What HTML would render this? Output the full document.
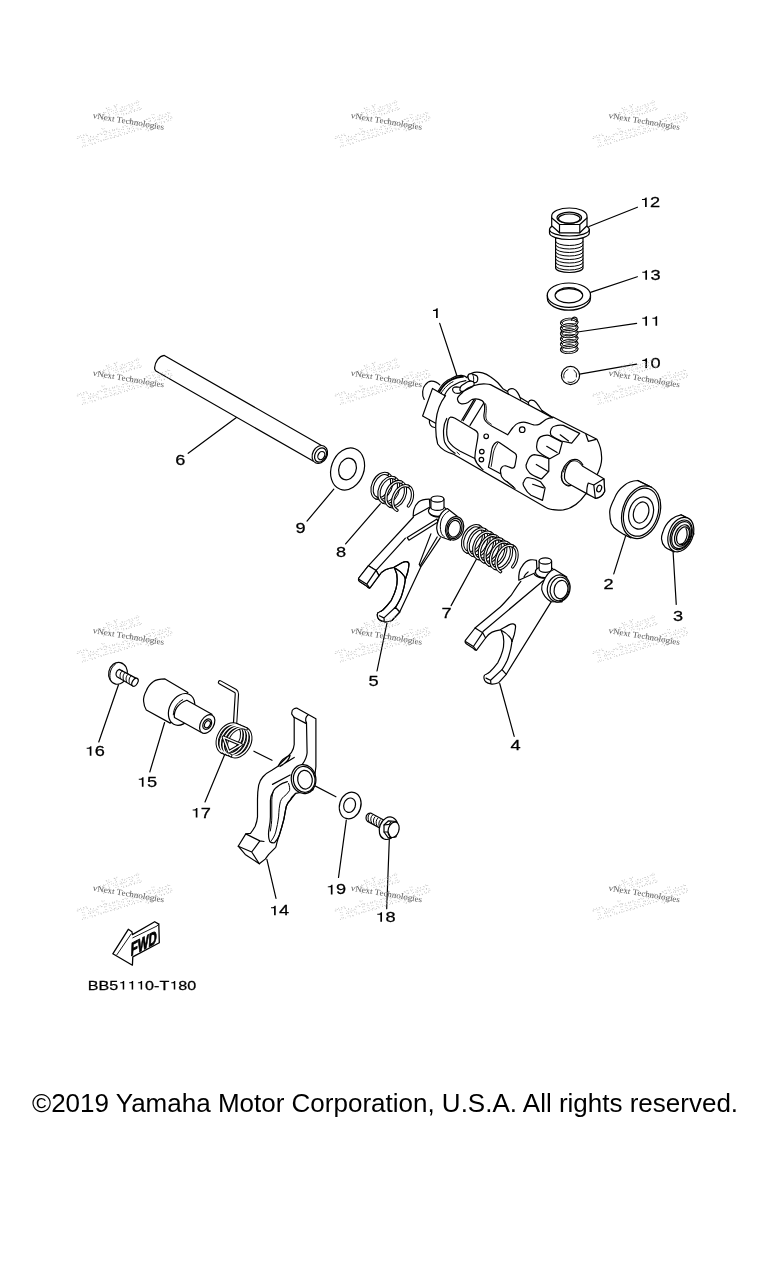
<!DOCTYPE html>
<html><head><meta charset="utf-8"><style>
html,body{margin:0;padding:0;background:#fff;width:768px;height:1280px;overflow:hidden}
svg{position:absolute;left:0;top:0;will-change:transform}
.c{will-change:transform;position:absolute;left:32px;top:1088px;font:26px "Liberation Sans",sans-serif;white-space:nowrap;color:#000;line-height:30px}
</style></head><body>
<svg width="768" height="1280" viewBox="0 0 768 1280">
<defs>
<path id="one" d="M756 0 L567 0 L567 1032 L223 1032 L223 1171 C502 1206 563 1249 635 1409 L756 1409 Z"/>
<g id="wm">
 <g fill="none" stroke="#b4b4b4" stroke-width="0.7" stroke-dasharray="0.7 2" font-family="Liberation Serif" font-size="17.5" transform="rotate(-17)">
  <text x="5" y="6" transform="scale(1.05,1)">vNext</text>
  <text x="-20" y="25" transform="scale(1.05,1)">Technologies</text>
 </g>
 <text fill="#5a5a5a" font-family="Liberation Serif" font-size="8.3" transform="rotate(9.5) scale(1.09,1)" x="0" y="0">vNext Technologies</text>
</g>
</defs>


<g fill="none" stroke="#000" stroke-width="1.2" stroke-linejoin="round" stroke-linecap="round">
<!-- leader lines -->
<path d="M589 226.5 L637.4 207.2"/>
<path d="M590.5 292.4 L637.3 276.7"/>
<path d="M577.5 332 L636.6 323.4"/>
<path d="M579.6 374.2 L636.6 364.2"/>
<path d="M439.7 323.4 L456.9 375.8"/>
<path d="M236.4 417.6 L188.2 453.3"/>
<path d="M333.8 489.2 L307 521.1"/>
<path d="M380.3 503.8 L345.6 543.9"/>
<path d="M476.9 558.2 L451.1 605.6"/>
<path d="M387.5 620.6 L377 671"/>
<path d="M499.7 683.5 L514.2 736.4"/>
<path d="M625.5 536.4 L613.75 573.9"/>
<path d="M673.1 552 L676.25 604.4"/>
<path d="M118.5 684.7 L98.75 742"/>
<path d="M164.6 722.5 L149.8 772"/>
<path d="M224.5 755 L205 802"/>
<path d="M266.9 859.3 L276 898.3"/>
<path d="M346.3 820.2 L338.5 877.5"/>
<path d="M389.3 839.7 L386.7 908.75"/>
<path d="M305.9 781.1 L335.9 796.8"/>
<path d="M253.9 751.2 L272 760.3"/>
</g>

<!-- PARTS -->
<g fill="#fff" stroke="#000" stroke-width="1.2" stroke-linejoin="round" stroke-linecap="round">

<!-- 12 bolt -->
<g id="p12">
 <path d="M555.6 238 L555.6 268 A13.7 4.5 0 0 0 583 268 L583 238 Z"/>
 <path fill="none" stroke-width="1" d="M555.6 241.5 A13.7 4 0 0 0 583 241.5 M555.6 245 A13.7 4 0 0 0 583 245 M555.6 248.5 A13.7 4 0 0 0 583 248.5 M555.6 252 A13.7 4 0 0 0 583 252 M555.6 255.5 A13.7 4 0 0 0 583 255.5 M555.6 259 A13.7 4 0 0 0 583 259 M555.6 262.5 A13.7 4 0 0 0 583 262.5 M555.6 266 A13.7 4 0 0 0 583 266"/>
 <path d="M549.5 229.5 L549.5 233 A19.9 6.5 0 0 0 589.3 233 L589.3 229.5 A19.9 6.5 0 0 0 549.5 229.5 Z"/>
 <path fill="none" d="M549.5 229.5 A19.9 6.5 0 0 0 589.3 229.5"/>
 <path d="M551.7 216 L551.7 225.8 L559.5 232.8 L579.8 232.8 L587 225.8 L587 216 A17.6 8 0 0 0 551.7 216 Z"/>
 <path fill="none" d="M551.8 218 L559.5 224.5 L579.8 224.5 L587 218 M559.5 224.5 L559.5 232.8 M579.8 224.5 L579.8 232.8"/>
 <ellipse cx="569.3" cy="217.8" rx="12.3" ry="5.6"/>
 <ellipse cx="569.3" cy="218.6" rx="10.8" ry="4.6"/>
</g>

<!-- 13 washer -->
<g id="p13">
 <path d="M547.3 295.2 L547.3 298 A21.6 12.2 0 0 0 590.5 298 L590.5 295.2 Z"/>
 <ellipse cx="568.9" cy="295.2" rx="21.6" ry="12.2"/>
 <ellipse cx="568.9" cy="295.3" rx="13.8" ry="7.6"/>
 <path fill="none" d="M555.6 294 A13.5 6.6 0 0 1 582.2 294"/>
</g>

<!-- 11 spring -->
<g id="p11" fill="none">
<g stroke="#000" stroke-width="2.6"><path transform="translate(569.20 322.60) rotate(-3)" d="M8 0 A8 3.6 0 0 0 -8 0"/><path transform="translate(569.20 327.92) rotate(-3)" d="M8 0 A8 3.6 0 0 0 -8 0"/><path transform="translate(569.20 333.24) rotate(-3)" d="M8 0 A8 3.6 0 0 0 -8 0"/><path transform="translate(569.20 338.56) rotate(-3)" d="M8 0 A8 3.6 0 0 0 -8 0"/><path transform="translate(569.20 343.88) rotate(-3)" d="M8 0 A8 3.6 0 0 0 -8 0"/><path transform="translate(569.20 349.20) rotate(-3)" d="M8 0 A8 3.6 0 0 0 -8 0"/></g>
<g stroke="#fff" stroke-width="0.9"><path transform="translate(569.20 322.60) rotate(-3)" d="M8 0 A8 3.6 0 0 0 -8 0"/><path transform="translate(569.20 327.92) rotate(-3)" d="M8 0 A8 3.6 0 0 0 -8 0"/><path transform="translate(569.20 333.24) rotate(-3)" d="M8 0 A8 3.6 0 0 0 -8 0"/><path transform="translate(569.20 338.56) rotate(-3)" d="M8 0 A8 3.6 0 0 0 -8 0"/><path transform="translate(569.20 343.88) rotate(-3)" d="M8 0 A8 3.6 0 0 0 -8 0"/><path transform="translate(569.20 349.20) rotate(-3)" d="M8 0 A8 3.6 0 0 0 -8 0"/></g>
<g stroke="#000" stroke-width="2.6"><path transform="translate(569.20 322.60) rotate(-3)" d="M-8 0 A8 3.6 0 0 0 8 0"/><path transform="translate(569.20 327.92) rotate(-3)" d="M-8 0 A8 3.6 0 0 0 8 0"/><path transform="translate(569.20 333.24) rotate(-3)" d="M-8 0 A8 3.6 0 0 0 8 0"/><path transform="translate(569.20 338.56) rotate(-3)" d="M-8 0 A8 3.6 0 0 0 8 0"/><path transform="translate(569.20 343.88) rotate(-3)" d="M-8 0 A8 3.6 0 0 0 8 0"/><path transform="translate(569.20 349.20) rotate(-3)" d="M-8 0 A8 3.6 0 0 0 8 0"/></g>
<g stroke="#fff" stroke-width="0.9"><path transform="translate(569.20 322.60) rotate(-3)" d="M-8 0 A8 3.6 0 0 0 8 0"/><path transform="translate(569.20 327.92) rotate(-3)" d="M-8 0 A8 3.6 0 0 0 8 0"/><path transform="translate(569.20 333.24) rotate(-3)" d="M-8 0 A8 3.6 0 0 0 8 0"/><path transform="translate(569.20 338.56) rotate(-3)" d="M-8 0 A8 3.6 0 0 0 8 0"/><path transform="translate(569.20 343.88) rotate(-3)" d="M-8 0 A8 3.6 0 0 0 8 0"/><path transform="translate(569.20 349.20) rotate(-3)" d="M-8 0 A8 3.6 0 0 0 8 0"/></g>
 <path stroke-width="1.1" d="M571.5 320.2 C571.8 317.6 574 316.6 575.9 317.4 C577.3 318.1 577.6 320 576.6 321.3"/>
</g>

<!-- 10 ball -->
<g id="p10">
 <circle cx="570.5" cy="375.5" r="9.1"/>
 <path fill="none" stroke-width="0.9" d="M564 378 A6.5 6.5 0 0 1 568 369.5 M574 370 A6.5 6.5 0 0 1 576.5 377 M575.5 380 A6.5 6.5 0 0 1 568 382"/>
</g>


<!-- 1 drum -->
<g id="p1">
 <path stroke="none" d="M424 398 L423 388 L432 381 L445 390 L466 375 L490 376 L553 417 L597 439 L602 457 L604 479 L605 491 L597 499 L577 501 L552 510.5 L454 454.4 L437 445 L435 424 L423 416 Z"/>
 <!-- nub and block -->
 <path d="M432.5 388.4 L445 395.7 L441 420 L435.6 423.3 L422.6 416 Z"/>
 <path fill="none" d="M424.2 399.4 C421.5 395 422.5 387.5 425.2 384.8 C427.5 382 429.5 381 431.5 381.1 C434.5 381 437.5 382.5 439.8 384.8"/>
 <path fill="none" d="M429.4 420.2 C429 424 431 427 434.6 427.5"/>
 <!-- ring at left end -->
 <path fill="none" d="M438.2 391 C442 384 447 380 451.3 378.5 C455 376 459 375.2 461.7 375.4 C463.5 375.6 465.5 376.3 466.9 377.5"/>
 <path fill="none" stroke-width="1.8" d="M439.4 391.8 C443 385.5 447.5 381.5 452 379.5 C456 377.5 460 376.6 463 376.8"/>
 <path fill="none" stroke-width="1" d="M441 393.3 C444.5 387.5 449 383.5 453 381.7"/>
 <path fill="none" d="M444.5 395.2 C447 390 450.5 386.5 454.4 384.8 C458 382.5 462 381 465.8 380.6"/>
 <!-- left end face arc -->
 <path d="M445.5 395.7 C440 403 436.7 413 436 421 C435.3 430 436 438 437.7 444 C441 449 447 452.5 454 454.4 L544.6 506.7 C549 509.5 556 510.5 563.3 509.8 C570 509 578 505 586 493.6 L597 475 C600 469 602 462 601.6 457 C601.5 451 600 445 596.9 439.3 L553 417"/>
 <!-- top silhouette with ears -->
 <path fill="none" d="M466.9 377.5 C469 374.5 471.5 372.8 474.2 372.3 C477 372 480 372.2 482.5 372.8 C485 373.5 488 375 490.4 376.8 C493.5 379 495.5 380.5 497.7 382.5 C499.5 384.5 501.3 386.8 502.9 388.8 L507.6 391.6 C508 390 509 389 510.2 388.8 C511.5 388.5 512.5 388.5 513.3 388.8 C515 389.5 516.5 390.8 517.5 392.4 C518.5 394 519.5 396 520.1 397.6 L528.4 402.6 C529 401 530 400.3 531 400.2 C532 400.1 533.2 400.3 534.2 400.7 C535.8 401.8 537.2 403.5 538.3 405.4 C539.5 407 540.8 409 542 410.6 L552.7 417.5"/>
 <path fill="none" d="M474.4 385.5 C478 384.2 483 383.8 486 384 C488 384.1 489 384.2 490.5 384.6 L552.5 417.6"/>
 <path fill="none" stroke-width="1" d="M507.6 391.6 L508.3 393.6 M520.1 397.6 L520.6 399.5 M528.4 402.6 L528.9 404.9 M542 410.6 L542.5 412.2"/>
 <!-- stopper pins -->
 <path d="M468 375.6 C468.5 374 470 373.6 472 373.7 L476.3 375.6 C477.6 376.6 478 379 477.4 381 C476.7 382.6 475 383 473.5 382.4 L469.6 380.6 C468.3 379.5 467.8 377.5 468 375.6 Z"/>
 <path fill="none" stroke-width="1" d="M472 373.8 C473.5 375 474 377.5 473.5 382.3"/>
 <path d="M452.6 390 C452.3 388 454 386.8 456.5 386.8 L461 387.5 C462.5 388.3 462.8 390.5 461.5 392 C460 393.4 457.5 393.6 455 393 C453.6 392.4 452.8 391.2 452.6 390 Z"/>
 <path d="M460 388.6 C459.3 390.6 461 391.9 463.5 391.3 L472.5 386.6 C474.6 385.2 474.8 382.6 472.8 381.5 C471.2 380.8 469.2 381 467.6 381.8 L461.6 385.5 C460.6 386.4 460.2 387.4 460 388.6 Z"/>
 <!-- cam groove -->
 <path fill="none" d="M474.4 385.5 C470 386.5 465 389.5 462 393 C459 395.5 457 397.5 457.5 399.4 C458 402 459.5 403.5 461.5 403.8 C464 404 466 403.7 468 402.5 C470 401 471 399.8 472.5 399.3 C475 398.7 477 398.8 479 399.3 C481.5 400 483.3 401.3 484 403 C484.8 406 484.8 410 484.2 413 C483.6 416 483.8 419 485.5 421 C487 423 489 424.7 492 426.3 L507.7 434.8 C509.5 432.5 511 429.5 513 427.5 C515 425 517 423.5 519.2 422.8 C521.5 422.2 523.5 422.1 525.4 422.3 C528.5 422.8 531 424.3 533.8 424.9 C536 425.2 537.5 425 539 424.4 C541.5 423 543.5 421 546.3 419.2 C548.5 418 550.5 417.6 552.5 417.6"/>
 <path fill="none" stroke-width="0.9" d="M485.6 403.8 C486.5 406.5 486.5 410 486 413 C485.6 416 485.8 418.5 486.8 420.3 C487.8 421.8 489.3 423 491.3 424.2"/>
 <!-- ridge lines -->
 <path fill="none" d="M461.7 420.2 L474.2 399.4 M463.2 420.6 L475.5 400 M470 425.4 L483.5 403.5"/>
 <!-- big slot -->
 <path d="M448.2 420 C449 418 449.5 417.2 450.5 417.1 C452 417 453 417.3 455 418.3 L473.8 429.4 C476 430.5 477.5 432 477.9 433.5 C478.3 436 477.5 440 476.5 445 C475.5 450 475 455 474.8 458.5 L460.2 451.3 C455 448.5 451 445.5 448.2 440.8 C446.8 437 446.4 433 446.7 430.4 C447 426 447.5 423 448.2 420 Z"/>
 <path fill="none" d="M446.7 418.5 C444.5 422.5 443.5 427 443.5 430.4 C443.5 435 443.8 439 444.6 441.9 C446.5 446.5 450 450 455 453.3"/>
 <path fill="none" stroke-width="0.9" d="M457 452.2 L459.5 454.5"/>
 <!-- holes -->
 <circle cx="486.2" cy="436.3" r="2.3"/>
 <circle cx="481.8" cy="451.6" r="2.3"/>
 <circle cx="481.4" cy="459.6" r="2.3"/>
 <circle cx="522.2" cy="429.7" r="2.8"/>
 <!-- right slot -->
 <path fill="none" d="M496.3 442.3 C497.3 441.6 498.3 441.8 499.3 442.4 L515 453.3 C516.2 454.3 516.7 455.5 516.5 457 L514.9 466 C514.5 467.5 513.5 468.3 512 468.1 L505.6 465.8 C503.8 465.6 502.5 466.3 501.7 467.3 C500.6 468.8 500.3 470 500.5 471.3 C500.8 473.5 501 475.3 501.7 476.7 C503 478.8 504.5 480.2 506.4 481.4 L515 488.4 M496.3 442.3 C493.5 444 491.8 448 491.3 452 C490.5 458 489.5 463 488.4 467.3 L500.6 473.8 M474.8 458.5 C475.5 461.5 477.5 464.5 480.6 467.3 C481.5 468.2 482.3 469 483 469.6"/>
 <path fill="none" stroke-width="0.9" d="M497.8 443 C495.5 446 494 450 493.3 453 C492.5 458 492 462 491.2 466.5 M507 481.2 L514 487"/>
 <!-- scallops -->
 <path d="M550.8 434.8 C549.5 430 552 426.5 555 426 C558 425 561 425 563.3 425.4 L579.7 433.4 L571.7 443.1 L561.3 441 C557 439 553 437 550.8 434.8 Z"/>
 <path fill="none" d="M560.2 434.8 L568.5 441"/>
 <path d="M537.3 450.4 C535.5 446 537.5 438.5 540.4 436.9 C543 435.5 546 435 548.8 435.3 L562.3 442.1 L559.2 453.5 L549.8 458.8 C545 456.5 540 453.5 537.3 450.4 Z"/>
 <path fill="none" d="M546.7 446.3 L557.1 452.5"/>
 <path d="M530 473.3 C526 469 525.5 465 526.9 462.9 C528.5 457.5 531.5 455 534.2 454.6 C539 455 544 456.5 548.8 458.8 L548.8 471.3 L541.5 479 C537.5 477.5 533 476 530 473.3 Z"/>
 <path fill="none" d="M536.3 464.5 L547.7 471.3"/>
 <path d="M524.8 487.9 C522.5 485 522.8 482.5 523.8 481.7 C525 478.5 526.5 477.5 527.9 477.5 C532 478 537 479.5 540.4 481.7 L545.1 487.9 L542.5 500.4 L531 495.2 C528 493 526 490.5 524.8 487.9 Z"/>
 <path fill="none" d="M532.6 484.3 L543.5 487.9"/>
 <!-- notch -->
 <path fill="none" d="M585.9 434.2 L588.3 441.3 L596.1 439.3"/>
 <!-- shaft -->
 <path d="M582.8 466.3 L603.9 478.8 L604.7 491.3 C603 495 599 498 595.3 498.3 L586.7 493.6 L571.1 485 C567 483 565 481 564.5 478 C564 473 566 466 570 462 C574 459.5 579 461 582.8 466.3 Z"/>
 <path fill="none" d="M571.1 485.5 C565 486 561.5 482 561.3 477.2 C561 470 566 462 572 459.8 C576.5 458.6 580.5 460.8 582.8 464.7"/>
 <path fill="none" stroke-width="0.9" d="M569 486.3 C563.5 485.5 561.3 481 561.8 475.5 M572 461 C568 462.5 564.5 467 563.5 472"/>
 <path d="M593.8 485 L603.9 478.8 L604.7 491.3 C603 495 599 498 595.3 498.3 Z"/>
 <path fill="none" d="M588.3 483 L593.8 485 M588.3 483 C587 486 586.7 490 586.7 493.6"/>
 <ellipse cx="599.2" cy="488.5" rx="2.3" ry="3.5" transform="rotate(20 599.2 488.5)"/>
</g>


<!-- 8 spring -->
<g id="p8" fill="none">
<g stroke="#000" stroke-width="3.3"><path transform="translate(381.90 486.00) rotate(25)" d="M0 13.3 A9 13.3 0 0 0 0 -13.3"/><path transform="translate(388.80 490.10) rotate(25)" d="M0 13.3 A9 13.3 0 0 0 0 -13.3"/><path transform="translate(395.70 494.20) rotate(25)" d="M0 13.3 A9 13.3 0 0 0 0 -13.3"/><path transform="translate(402.60 498.30) rotate(25)" d="M0 -13.3 A9 13.3 0 0 1 8.46 4.55"/></g>
<g stroke="#fff" stroke-width="1.2"><path transform="translate(381.90 486.00) rotate(25)" d="M0 13.3 A9 13.3 0 0 0 0 -13.3"/><path transform="translate(388.80 490.10) rotate(25)" d="M0 13.3 A9 13.3 0 0 0 0 -13.3"/><path transform="translate(395.70 494.20) rotate(25)" d="M0 13.3 A9 13.3 0 0 0 0 -13.3"/><path transform="translate(402.60 498.30) rotate(25)" d="M0 -13.3 A9 13.3 0 0 1 8.46 4.55"/></g>
<g stroke="#000" stroke-width="3.3"><path transform="translate(381.90 486.00) rotate(25)" d="M0 -13.3 A9 13.3 0 0 0 0 13.3"/><path transform="translate(388.80 490.10) rotate(25)" d="M0 -13.3 A9 13.3 0 0 0 0 13.3"/><path transform="translate(395.70 494.20) rotate(25)" d="M0 -13.3 A9 13.3 0 0 0 0 13.3"/><path transform="translate(402.60 498.30) rotate(25)" d="M0 -13.3 A9 13.3 0 0 0 0 13.3"/></g>
<g stroke="#fff" stroke-width="1.2"><path transform="translate(381.90 486.00) rotate(25)" d="M0 -13.3 A9 13.3 0 0 0 0 13.3"/><path transform="translate(388.80 490.10) rotate(25)" d="M0 -13.3 A9 13.3 0 0 0 0 13.3"/><path transform="translate(395.70 494.20) rotate(25)" d="M0 -13.3 A9 13.3 0 0 0 0 13.3"/><path transform="translate(402.60 498.30) rotate(25)" d="M0 -13.3 A9 13.3 0 0 0 0 13.3"/></g>
</g>

<!-- 7 spring -->
<g id="p7" fill="none">
<g stroke="#000" stroke-width="3.3"><path transform="translate(473.00 539.20) rotate(25)" d="M0 14.2 A9.5 14.2 0 0 0 0 -14.2"/><path transform="translate(478.60 542.47) rotate(25)" d="M0 14.2 A9.5 14.2 0 0 0 0 -14.2"/><path transform="translate(484.20 545.73) rotate(25)" d="M0 14.2 A9.5 14.2 0 0 0 0 -14.2"/><path transform="translate(489.80 549.00) rotate(25)" d="M0 14.2 A9.5 14.2 0 0 0 0 -14.2"/><path transform="translate(495.40 552.27) rotate(25)" d="M0 14.2 A9.5 14.2 0 0 0 0 -14.2"/><path transform="translate(501.00 555.53) rotate(25)" d="M0 14.2 A9.5 14.2 0 0 0 0 -14.2"/><path transform="translate(506.60 558.80) rotate(25)" d="M0 -14.2 A9.5 14.2 0 0 1 8.93 4.86"/></g>
<g stroke="#fff" stroke-width="1.2"><path transform="translate(473.00 539.20) rotate(25)" d="M0 14.2 A9.5 14.2 0 0 0 0 -14.2"/><path transform="translate(478.60 542.47) rotate(25)" d="M0 14.2 A9.5 14.2 0 0 0 0 -14.2"/><path transform="translate(484.20 545.73) rotate(25)" d="M0 14.2 A9.5 14.2 0 0 0 0 -14.2"/><path transform="translate(489.80 549.00) rotate(25)" d="M0 14.2 A9.5 14.2 0 0 0 0 -14.2"/><path transform="translate(495.40 552.27) rotate(25)" d="M0 14.2 A9.5 14.2 0 0 0 0 -14.2"/><path transform="translate(501.00 555.53) rotate(25)" d="M0 14.2 A9.5 14.2 0 0 0 0 -14.2"/><path transform="translate(506.60 558.80) rotate(25)" d="M0 -14.2 A9.5 14.2 0 0 1 8.93 4.86"/></g>
<g stroke="#000" stroke-width="3.3"><path transform="translate(473.00 539.20) rotate(25)" d="M0 -14.2 A9.5 14.2 0 0 0 0 14.2"/><path transform="translate(478.60 542.47) rotate(25)" d="M0 -14.2 A9.5 14.2 0 0 0 0 14.2"/><path transform="translate(484.20 545.73) rotate(25)" d="M0 -14.2 A9.5 14.2 0 0 0 0 14.2"/><path transform="translate(489.80 549.00) rotate(25)" d="M0 -14.2 A9.5 14.2 0 0 0 0 14.2"/><path transform="translate(495.40 552.27) rotate(25)" d="M0 -14.2 A9.5 14.2 0 0 0 0 14.2"/><path transform="translate(501.00 555.53) rotate(25)" d="M0 -14.2 A9.5 14.2 0 0 0 0 14.2"/><path transform="translate(506.60 558.80) rotate(25)" d="M0 -14.2 A9.5 14.2 0 0 0 0 14.2"/></g>
<g stroke="#fff" stroke-width="1.2"><path transform="translate(473.00 539.20) rotate(25)" d="M0 -14.2 A9.5 14.2 0 0 0 0 14.2"/><path transform="translate(478.60 542.47) rotate(25)" d="M0 -14.2 A9.5 14.2 0 0 0 0 14.2"/><path transform="translate(484.20 545.73) rotate(25)" d="M0 -14.2 A9.5 14.2 0 0 0 0 14.2"/><path transform="translate(489.80 549.00) rotate(25)" d="M0 -14.2 A9.5 14.2 0 0 0 0 14.2"/><path transform="translate(495.40 552.27) rotate(25)" d="M0 -14.2 A9.5 14.2 0 0 0 0 14.2"/><path transform="translate(501.00 555.53) rotate(25)" d="M0 -14.2 A9.5 14.2 0 0 0 0 14.2"/><path transform="translate(506.60 558.80) rotate(25)" d="M0 -14.2 A9.5 14.2 0 0 0 0 14.2"/></g>
</g>

<!-- fork lower part (shared) -->
<g id="forklow">
 <path d="M368.5 565.7 L358.8 578 C358.2 579.5 358.8 581 360 581.8 L367 586.3 C368 587.5 369 588.3 370 587.8 L379 575.7 L376.1 570.4 Z"/>
 <path fill="none" d="M376.1 570.4 L366.8 584.2 L359.3 579.5 M366.8 584.2 L369.6 587.9"/>
 <path fill="none" d="M379 575.7 C381 572.5 383.5 570.8 385.5 569.8 C388.5 568.5 391 568 393.7 567.5 C396.5 566 399.5 564 401.9 562.8 C403.5 562 405.5 561.4 406.6 561.6 C408.5 562 409.2 563.5 408.9 565.2 C408.6 568 408.2 570 407.7 572.2 L405.4 579.2"/>
 <path fill="none" d="M393.7 567.5 C398 569.5 402 573 404.5 576.5 L405.4 579.2"/>
 <path fill="none" d="M394.8 568.7 C396.5 572 397.3 576 397.2 579.2 C397.2 583 396.8 586 396 588.6 C394.8 593 393 597 391.3 600.3 C388.5 604 386 607 383.1 609.7 C381 611.5 379 612.5 377.8 613.2"/>
 <path fill="none" d="M405.4 579.2 C404.8 583 404.5 585 404.2 586.3 C403 591 402 595 400.7 598 C399 601.5 397.5 604.5 395.4 607.3"/>
 <path stroke="none" d="M377.8 613.2 L395.4 607.3 L399.7 612 L391.9 620.5 L387.5 622.8 L384 621.6 L379.1 619.5 C377.3 617.5 376.8 614.5 377.8 613.2 Z"/>
 <path fill="none" d="M377.8 613.2 C376.8 614.5 377.3 617.5 379.1 619.5 C380.5 620.8 382.5 621.4 384.3 621.6 C386 622.2 388.5 621.8 391.9 620.5 L399.7 612 M395.4 607.3 L384 617.9 L384.3 621.6 M395.4 607.3 L399.7 612 M379.4 615.8 L383.8 617.9"/>
</g>

<!-- 5 fork upper -->
<g id="p5">
 <path fill="none" d="M413.5 517 L368.5 565.7"/>
 <path fill="none" d="M405.4 538.2 L376.1 570.4"/>
 <path d="M407.2 537.6 L437 519 L438 522 L408.9 540.2 Z"/>
 <path fill="none" d="M440.3 537.8 L420.8 567 L399.7 612 M430.9 533.9 L419.2 564.4 L420.8 567 M437.2 537 L420 566"/>
 <path d="M413.2 516.3 C413 510 415 505 418.5 502 C421 500 424 499 429.4 499.1 L430 507 Z"/>
 <ellipse cx="437.6" cy="511" rx="9.2" ry="5.3"/>
 <path fill="none" d="M429.4 513.3 C431.5 515.8 435 517 439 517.2"/>
 <path d="M430.9 499.1 L430.9 507.4 A6.5 3 0 0 0 444 507.4 L444 499.1 Z"/>
 <ellipse cx="437.4" cy="499.1" rx="6.5" ry="3.1"/>
 <path stroke="none" d="M447.3 508.5 C442 511 439.5 515.5 438.5 519.7 C437 523.5 436.5 526.5 436.8 529 C437.2 532 438 534 438.8 535 C440 536.5 441.5 537.3 442.7 537.5 L449.7 540.5 L460 536 L462 518 L456.7 515.5 Z"/>
 <path fill="none" d="M457.5 516.5 L447.3 508.5 C442 511 439.5 515.5 438.5 519.7 C437 523.5 436.5 526.5 436.8 529 C437.2 532 438 534 438.8 535 C440 536.5 441.5 537.3 442.7 537.5 L450.5 540.3"/>
 <path fill="none" stroke-width="1" d="M449.5 510.5 C445 513 442 517 441 521 C440 525 440.2 529 441 532 C441.7 534.5 443 536 444.5 537"/>
 <ellipse cx="454.6" cy="528.3" rx="8.9" ry="11.9" transform="rotate(15 454.6 528.3)"/>
 <ellipse cx="454.5" cy="528.5" rx="7.4" ry="10.3" transform="rotate(15 454.5 528.5)"/>
 <ellipse cx="454.3" cy="528.8" rx="6" ry="8.5" transform="rotate(15 454.3 528.8)"/>
</g>
<use href="#forklow"/>

<!-- 4 fork upper -->
<g id="p4">
 <path fill="none" d="M520.8 581.3 C517 586 514 591 511.5 594.8 C507 600 503 604.5 500 607.3 L475 628"/>
 <path fill="none" d="M543.8 580.2 L483 631.5"/>
 <path fill="none" d="M551 602.1 L506.3 674.2"/>
 <path d="M518.8 580.2 C518.5 574 519.5 569.5 521.9 566.7 C524 563 527 560.5 530.2 559.9 C532.5 559.6 534.5 559.8 536.5 560.4 L537 572 Z"/>
 <path fill="none" d="M524 577 C525 574.5 526.5 573 528.1 571.9"/>
 <ellipse cx="545" cy="572" rx="9.6" ry="5.6"/>
 <path fill="none" d="M534.4 574.5 C537 577 541 578.2 546 578.3"/>
 <path d="M539.1 561 L539.1 569.3 A6.25 3 0 0 0 551.6 569.3 L551.6 561 Z"/>
 <ellipse cx="545.3" cy="561" rx="6.25" ry="3.1"/>
 <path d="M554.2 569.3 L566.7 577.1 L562 602 L551 601.6 C547 599.5 543.5 596 541.7 589.6 C541.5 586 542 584 543.2 582.3 C546 575 550 571 554.2 569.3 Z"/>
 <ellipse cx="558.7" cy="588.5" rx="11.3" ry="13.6" transform="rotate(12 558.7 588.5)"/>
 <ellipse cx="559.7" cy="589" rx="9.5" ry="11.8" transform="rotate(12 559.7 589)"/>
 <ellipse cx="561" cy="589.6" rx="6.8" ry="9.3" transform="rotate(12 561 589.6)"/>
</g>
<use href="#forklow" transform="translate(106.6 62.3)"/>

<!-- 2 bearing -->
<g id="p2">
 <path d="M637.8 480.5 C632 481 627 483 624.5 485.2 C619.5 489 616 494 614.4 498.4 C611 505 609.5 509 609.7 512.5 C609.8 517 610.3 520.5 611.3 523.4 C612.8 526.5 614.5 528.3 616.7 529.7 C619 531.5 621.5 533 623.8 534.4 L631 538 L660 500 L651.5 487.3 Z"/>
 <path fill="none" d="M637.8 480.5 L651.5 487.3"/>
 <ellipse cx="641.1" cy="512.2" rx="18.6" ry="27" transform="rotate(18 641.1 512.2)"/>
 <ellipse cx="641.1" cy="512.2" rx="16.8" ry="24.6" transform="rotate(18 641.1 512.2)"/>
 <ellipse cx="641.1" cy="513" rx="12" ry="16.4" transform="rotate(18 641.1 513)"/>
 <ellipse cx="641.1" cy="512.5" rx="7.4" ry="10.8" transform="rotate(18 641.1 512.5)"/>
</g>

<!-- 3 seal -->
<g id="p3">
 <path d="M681 514.8 C677 515.5 674 517 671.3 519.3 C667 523 664 528 662.8 532.3 C661.8 535 661.3 537 661.5 538.9 C661.8 542 663 544.8 664.8 546.7 C666.5 548.3 668 549.3 670 549.9 L674 552 L694 534 L687 517.7 Z"/>
 <path fill="none" d="M681 514.8 L687 517.8"/>
 <ellipse cx="680.8" cy="534.6" rx="12" ry="18" transform="rotate(22 680.8 534.6)"/>
 <ellipse cx="681.2" cy="534.9" rx="10.2" ry="15.5" transform="rotate(22 681.2 534.9)"/>
 <ellipse cx="681.6" cy="535.1" rx="9.2" ry="14.1" transform="rotate(22 681.6 535.1)"/>
 <ellipse cx="682.4" cy="535.5" rx="7.2" ry="11.2" transform="rotate(22 682.4 535.5)"/>
 <ellipse cx="683" cy="535.8" rx="5.9" ry="9.3" transform="rotate(22 683 535.8)"/>
 <path fill="none" d="M686 528.5 C688 532 687.5 537.5 684.8 541.5 C683.3 543.5 681.8 544.3 680.5 544.2"/>
</g>

<!-- 16 screw -->
<g id="p16">
 <ellipse cx="118" cy="673.3" rx="9.3" ry="11" transform="rotate(12 118 673.3)"/>
 <path fill="none" stroke-width="1" d="M110.3 679.5 C109 674 110.5 667.5 115.5 664"/>
 <path d="M119.3 669.4 L136.3 678.4 C138.5 680 138 684.5 132.8 686 L117 676.7 C115 675 116 670.5 119.3 669.4 Z"/>
 <path fill="none" stroke-width="1" d="M122.5 670.8 C120 672 119.5 676 120.5 678.3 M125.5 672.4 C123 673.6 122.5 677.6 123.5 679.9 M128.5 674 C126 675.2 125.5 679.2 126.5 681.5 M131.5 675.6 C129 676.8 128.5 680.8 129.5 683.1"/>
 <ellipse cx="135" cy="682.2" rx="2.6" ry="4.4" transform="rotate(30 135 682.2)"/>
</g>

<!-- 15 collar -->
<g id="p15">
 <path d="M165 678.9 C159.5 679 155.5 680 153.5 681.5 C150 684 147.5 687.5 146.3 690.8 C144 695 143.3 698.5 143.6 701.3 C143.8 704.5 144.8 707.5 146.3 710 L170.2 723.1 L187.9 692.4 Z"/>
 <ellipse cx="181.6" cy="709.4" rx="12" ry="16.8" transform="rotate(28 181.6 709.4)"/>
 <path d="M186.9 700.2 L211.9 714.3 L204.6 733.5 L201.5 732.5 L174.4 717.4 C173.5 711 178 703 186.9 700.2 Z"/>
 <path fill="none" stroke-width="1" d="M182.7 699.7 C177 702.5 173.5 708.5 173.3 714.8"/>
 <ellipse cx="207.2" cy="724" rx="6.6" ry="10.2" transform="rotate(30 207.2 724)"/>
 <ellipse cx="207.2" cy="724.2" rx="4" ry="5.6" transform="rotate(30 207.2 724.2)"/>
 <ellipse cx="207.4" cy="724.3" rx="2.6" ry="3.8" transform="rotate(30 207.4 724.3)"/>
</g>

<!-- 17 torsion spring -->
<g id="p17" fill="none">
 <path stroke-width="4.4" d="M220 682.3 L235.5 691 C236.5 691.8 237 693 236.9 694 L235 724"/>
 <path stroke="#fff" stroke-width="2.2" d="M220 682.3 L235.5 691 C236.5 691.8 237 693 236.9 694 L235 726"/>
 <g id="p17c" fill="none">
<g stroke="#000" stroke-width="3.4"><path transform="translate(229.50 738.50) rotate(30)" d="M0 15.5 A11 15.5 0 0 0 0 -15.5"/><path transform="translate(232.50 739.73) rotate(30)" d="M0 15.5 A11 15.5 0 0 0 0 -15.5"/><path transform="translate(235.50 740.97) rotate(30)" d="M0 15.5 A11 15.5 0 0 0 0 -15.5"/><path transform="translate(238.50 742.20) rotate(30)" d="M0 -15.5 A11 15.5 0 0 1 0 15.5"/></g>
<g stroke="#fff" stroke-width="1.4"><path transform="translate(229.50 738.50) rotate(30)" d="M0 15.5 A11 15.5 0 0 0 0 -15.5"/><path transform="translate(232.50 739.73) rotate(30)" d="M0 15.5 A11 15.5 0 0 0 0 -15.5"/><path transform="translate(235.50 740.97) rotate(30)" d="M0 15.5 A11 15.5 0 0 0 0 -15.5"/><path transform="translate(238.50 742.20) rotate(30)" d="M0 -15.5 A11 15.5 0 0 1 0 15.5"/></g>
<g stroke="#000" stroke-width="3.4"><path transform="translate(229.50 738.50) rotate(30)" d="M0 -15.5 A11 15.5 0 0 0 0 15.5"/><path transform="translate(232.50 739.73) rotate(30)" d="M0 -15.5 A11 15.5 0 0 0 0 15.5"/><path transform="translate(235.50 740.97) rotate(30)" d="M0 -15.5 A11 15.5 0 0 0 0 15.5"/><path transform="translate(238.50 742.20) rotate(30)" d="M0 -15.5 A11 15.5 0 0 0 0 15.5"/></g>
<g stroke="#fff" stroke-width="1.4"><path transform="translate(229.50 738.50) rotate(30)" d="M0 -15.5 A11 15.5 0 0 0 0 15.5"/><path transform="translate(232.50 739.73) rotate(30)" d="M0 -15.5 A11 15.5 0 0 0 0 15.5"/><path transform="translate(235.50 740.97) rotate(30)" d="M0 -15.5 A11 15.5 0 0 0 0 15.5"/><path transform="translate(238.50 742.20) rotate(30)" d="M0 -15.5 A11 15.5 0 0 0 0 15.5"/></g>
</g>
 <path stroke-width="3.4" stroke-linejoin="round" d="M228.8 751.8 L223.4 737.2 L241.2 744.6 Z"/>
 <path stroke="#fff" stroke-width="1.4" stroke-linejoin="round" d="M228.8 751.8 L223.4 737.2 L241.2 744.6 Z"/>
</g>

<!-- 14 lever -->
<g id="p14">
 <path d="M291.8 714.1 C291.5 711.5 292.5 709.5 294 708.8 C295 708.2 296.3 708 297.1 708.2 L315.9 718.8 L315.9 766.8 L313 790 L295.6 793.4 C292.5 796 290.5 799 290.9 799.3 C288.5 802 287 804 286.3 806.3 C285.5 810 284.8 814 283.9 819.2 C282.5 825 281 830 279.2 835.6 C278.3 838 277.5 840.5 276.9 842.7 C276.5 844.5 276.2 846 275.7 847.3 L268.7 854.4 L265.2 859.1 L259.3 863.8 L245.2 854.4 L238.2 846.2 L245.8 833.9 L250.5 833.3 C252.5 831 254 828.5 255.2 826.3 C256.5 823 257.2 820 257.5 816.9 L257.5 799.3 C257.5 794 258 789 258.7 785.2 C259.5 781.5 261 779 262.8 777 C265.5 774 268.5 771.8 272.2 770 L277.2 766.8 L281.9 762.1 C285 759 288.5 756 291.3 752.7 C293 750 294 747.5 294.2 744.5 L294.2 717.6 Z"/>
 <path fill="none" d="M293.6 717 L305.9 723.4 M306.5 722.9 C305 720 305.5 717 308.2 714.8"/>
 <path fill="none" d="M306.5 722.9 L307.1 752.7 C306.8 757 305.5 761 299.5 768"/>
 <path fill="none" d="M278.4 766.2 C280 761.5 284 757.5 290.1 755.2 C289.5 759 286 763 280 766.5 M280 766.2 L294.2 757.4"/>
 <path fill="none" d="M272.5 784.4 L290.1 775"/>
 <path fill="none" d="M287.4 781.7 C283 783 280.5 784.2 279.2 785.2 C276 787.5 274 789.5 273.4 791.1 C271 795 270.5 798 270.4 800.5 L270.4 816.9 C270.4 822 269.5 826 268.7 830.9 C268.3 835 268.7 839 269.8 841.5 C271 842.7 273 843 274.5 842.7 C276.5 841 278 838.5 279.2 835.6 C281 830 282.5 825 283.9 819.2 C284.8 814 285.5 810 286.3 806.3 C287.5 803 289 801 290.9 799.3 L295.6 793.4"/>
 <path fill="none" stroke-width="1" d="M288.6 783.5 C289.5 786 290 789 289.5 790.6 L286.3 794.6 C283 797 281.3 799 280.4 801.6 C279.3 806 278.9 811 278.6 816.9 C278 822 277 827 275.7 832.1 C274.5 836 273 838.5 271.5 840.5"/>
 <path fill="none" stroke-width="1" d="M273 792.5 C272 796 271.8 799 271.8 801 L271.8 817 C271.8 822 271 827 270.3 831"/>
 <path fill="none" d="M245.8 833.9 L259.9 840.9 L264 841.5 M259.9 840.9 L251.7 852 M238.2 846.2 L251.7 852 L259.3 863.8"/>
 <ellipse cx="303.6" cy="779.1" rx="12.3" ry="14.6" transform="rotate(-8 303.6 779.1)"/>
 <ellipse cx="304.2" cy="779.4" rx="10.8" ry="13" transform="rotate(-8 304.2 779.4)"/>
 <ellipse cx="305" cy="779.7" rx="7.3" ry="9.4" transform="rotate(-8 305 779.7)"/>
</g>

<!-- 19 washer -->
<g id="p19">
 <ellipse cx="350.2" cy="805.5" rx="10.6" ry="13.6" transform="rotate(18 350.2 805.5)"/>
 <ellipse cx="349.6" cy="805.2" rx="5.8" ry="7.3" transform="rotate(18 349.6 805.2)"/>
</g>

<!-- 18 bolt -->
<g id="p18">
 <path d="M371.1 813.2 L384.6 820.5 L380.5 828.4 L367.6 821.4 C365.5 820 365.5 816 367.5 814.3 C368.5 813.5 370 813 371.1 813.2 Z"/>
 <path fill="none" stroke-width="1" d="M369.6 813.8 C367.8 815.5 367.5 818.5 368.8 821.2 M372.3 815.3 C370.5 817 370.2 820 371.5 822.7 M375 816.8 C373.2 818.5 372.9 821.5 374.2 824.2 M377.7 818.3 C375.9 820 375.6 823 376.9 825.7 M380.4 819.8 C378.6 821.5 378.3 824.5 379.6 827.2"/>
 <ellipse cx="388.4" cy="828.2" rx="8.8" ry="11.6" transform="rotate(22 388.4 828.2)"/>
 <path d="M384 825 L388.5 820.8 L396.5 821.5 L398.8 829.5 L396 836.8 L388.3 837.8 L384 832 Z"/>
 <ellipse cx="393.6" cy="829.8" rx="5.3" ry="7.9" transform="rotate(18 393.6 829.8)"/>
 <path fill="none" d="M384 825 L389.2 824.3 M384 832 L388 832 L390.5 837.5 M389.2 824.3 L391 822"/>
</g>


<!-- FWD arrow -->
<g id="fwd">
 <path stroke-width="1.3" d="M112.8 953.8 L128.3 929.3 L131.9 931.7 L132.4 934.6 L154.7 921.7 L158.8 924.1 L159.3 942.8 L132.8 956.9 L132.4 965.2 Z"/>
 <path fill="none" stroke-width="0.9" d="M116.9 954.7 L131 934.2 M132.8 937.8 L157 926 L158.8 924.1"/>
 <text x="0" y="0" font-family="Liberation Sans" font-weight="bold" font-size="19" fill="#000" stroke="#000" stroke-width="0.9" transform="matrix(0.6,-0.305,-0.05,0.99,130.6,956.3)">FWD</text>
</g>

<!-- 6 shaft -->
<g id="p6">
 <path d="M164.3 355.4 L321.5 445.6 L313.5 461.3 L155.9 371 C155 370 154.5 369.5 154.6 367.9 C155 362 159 356 164.3 355.4 Z"/>
 <ellipse cx="319.8" cy="454.5" rx="7.2" ry="9.4" transform="rotate(28 319.8 454.5)"/>
 <ellipse cx="320.5" cy="455" rx="5.5" ry="7.5" transform="rotate(28 320.5 455)"/>
 <ellipse cx="321.3" cy="455.6" rx="3.2" ry="4.3" transform="rotate(28 321.3 455.6)"/>
</g>

<!-- 9 washer -->
<g id="p9">
 <ellipse cx="347.6" cy="469" rx="16.3" ry="21.6" transform="rotate(20 347.6 469)"/>
 <ellipse cx="347.5" cy="469" rx="8.6" ry="11" transform="rotate(20 347.5 469)"/>
</g>

</g>

<!-- labels -->
<g font-family="Liberation Sans" font-size="14" fill="#000" stroke="#000" stroke-width="0.25">
 <text transform="translate(640,207.1) scale(1.3,1)" font-size="14"> 2</text>
 <use href="#one" transform="translate(640.00,207.1) scale(0.00889,-0.00684)"/>
 <text transform="translate(640.3,279.8) scale(1.3,1)" font-size="14"> 3</text>
 <use href="#one" transform="translate(640.30,279.8) scale(0.00889,-0.00684)"/>
 <text transform="translate(640.3,325.8) scale(1.3,1)" font-size="14">  </text>
 <use href="#one" transform="translate(640.30,325.8) scale(0.00889,-0.00684)"/>
 <use href="#one" transform="translate(650.42,325.8) scale(0.00889,-0.00684)"/>
 <text transform="translate(640.3,368) scale(1.3,1)" font-size="14"> 0</text>
 <use href="#one" transform="translate(640.30,368) scale(0.00889,-0.00684)"/>
 <text transform="translate(431,318) scale(1.3,1)" font-size="14"> </text>
 <use href="#one" transform="translate(431.00,318) scale(0.00889,-0.00684)"/>
 <text transform="translate(175.2,465) scale(1.3,1)" font-size="14">6</text>
 <text transform="translate(295.5,533) scale(1.3,1)" font-size="14">9</text>
 <text transform="translate(336,556.7) scale(1.3,1)" font-size="14">8</text>
 <text transform="translate(441.5,618.1) scale(1.3,1)" font-size="14">7</text>
 <text transform="translate(368.5,686.2) scale(1.3,1)" font-size="14">5</text>
 <text transform="translate(510.6,750.1) scale(1.3,1)" font-size="14">4</text>
 <text transform="translate(603.5,588.75) scale(1.3,1)" font-size="14">2</text>
 <text transform="translate(673,620.8) scale(1.3,1)" font-size="14">3</text>
 <text transform="translate(84.7,755.8) scale(1.3,1)" font-size="14"> 6</text>
 <use href="#one" transform="translate(84.70,755.8) scale(0.00889,-0.00684)"/>
 <text transform="translate(136.8,786.8) scale(1.3,1)" font-size="14"> 5</text>
 <use href="#one" transform="translate(136.80,786.8) scale(0.00889,-0.00684)"/>
 <text transform="translate(190.7,817.6) scale(1.3,1)" font-size="14"> 7</text>
 <use href="#one" transform="translate(190.70,817.6) scale(0.00889,-0.00684)"/>
 <text transform="translate(269,915.3) scale(1.3,1)" font-size="14"> 4</text>
 <use href="#one" transform="translate(269.00,915.3) scale(0.00889,-0.00684)"/>
 <text transform="translate(325.8,894.4) scale(1.3,1)" font-size="14"> 9</text>
 <use href="#one" transform="translate(325.80,894.4) scale(0.00889,-0.00684)"/>
 <text transform="translate(375.3,921.8) scale(1.3,1)" font-size="14"> 8</text>
 <use href="#one" transform="translate(375.30,921.8) scale(0.00889,-0.00684)"/>
 <text transform="translate(87.8,989.5) scale(1.31,1)" font-size="12.3">BB5   0-T 80</text>
 <use href="#one" transform="translate(118.26,989.5) scale(0.00787,-0.00601)"/>
 <use href="#one" transform="translate(127.22,989.5) scale(0.00787,-0.00601)"/>
 <use href="#one" transform="translate(136.18,989.5) scale(0.00787,-0.00601)"/>
 <use href="#one" transform="translate(169.31,989.5) scale(0.00787,-0.00601)"/>
</g>
<!-- watermarks -->
<g id="wms">
 <use href="#wm" x="92.5" y="118"/>
 <use href="#wm" x="350.5" y="118"/>
 <use href="#wm" x="608.3" y="118"/>
 <use href="#wm" x="92.5" y="375.5"/>
 <use href="#wm" x="350.5" y="375.5"/>
 <use href="#wm" x="608.3" y="375.5"/>
 <use href="#wm" x="92.5" y="633"/>
 <use href="#wm" x="350.5" y="633"/>
 <use href="#wm" x="608.3" y="633"/>
 <use href="#wm" x="92.5" y="890.5"/>
 <use href="#wm" x="350.5" y="890.5"/>
 <use href="#wm" x="608.3" y="890.5"/>
</g>
</svg>
<div class="c">©2019 Yamaha Motor Corporation, U.S.A. All rights reserved.</div>
</body></html>
